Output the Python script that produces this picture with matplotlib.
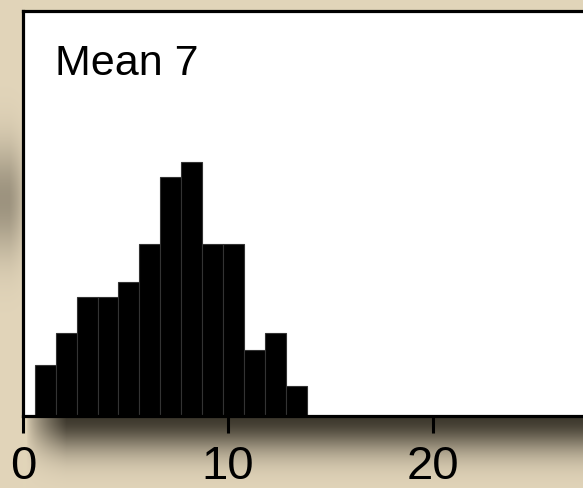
import numpy as np
import matplotlib
matplotlib.use("Agg")
import matplotlib.pyplot as plt

plt.rcParams['font.family'] = ['Liberation Sans', 'DejaVu Sans']

# histogram of the sample: bin edges and bar heights
bin_lo = 0.57
bin_hi = 13.85
heights = [3.25, 5.3, 7.6, 7.6, 8.6, 11.0, 15.3, 16.3, 11.0, 11.0, 4.25, 5.3, 1.9]
xticks = [0, 10, 20]
label = "Mean 7"

W, H = 583, 489
fig = plt.figure(figsize=(W / 100, H / 100), dpi=100)

# parchment backdrop with a soft drop shadow under the panel
yy, xx = np.mgrid[0:H, 0:W].astype(float)
base = np.array([226, 213, 186]) / 255.0
shade = np.array([62, 57, 46]) / 255.0
a_bot = np.where(yy >= 417, np.exp(-((yy - 417) / 34.0) ** 2), 0.0)
a_bot *= np.clip((xx - 26) / 40.0, 0, 1) ** 0.7
a_left = 0.42 * np.exp(-((yy - 200) / 55.0) ** 2) * np.clip((23 - xx) / 14.0, 0, 1) ** 0.4
alpha = np.clip(a_bot + a_left, 0, 1)[..., None]
bg = base * (1 - alpha) + shade * alpha
bga = fig.add_axes([0, 0, 1, 1], zorder=0)
bga.imshow(bg, aspect='auto', interpolation='bilinear')
bga.axis('off')

px = 20.5  # pixels per x unit
x0, ytop, ybot = 23, 12, 417
ax = fig.add_axes([x0 / W, (H - ybot) / H, 30 * px / W, (ybot - ytop) / H], zorder=1)
ax.set_facecolor('white')

edges = np.linspace(bin_lo, bin_hi, len(heights) + 1)
ax.bar(edges[:-1], heights, width=np.diff(edges), align='edge',
       color='black', edgecolor='#333333', linewidth=0.8)

ax.set_xlim(0, 30)
ax.set_ylim(0, (ybot - ytop) / 15.6)
ax.set_xticks(xticks)
ax.set_yticks([])
ax.tick_params(axis='x', direction='out', length=12, width=2.2, pad=8,
               labelsize=34, color='black')
for s in ax.spines.values():
    s.set_linewidth(2.3)
    s.set_color('black')

# label placed in display pixels
fig.text(55 / W, 1 - 75 / H, label, fontsize=31, ha='left', va='baseline')

fig.savefig("out.png", dpi=100)
